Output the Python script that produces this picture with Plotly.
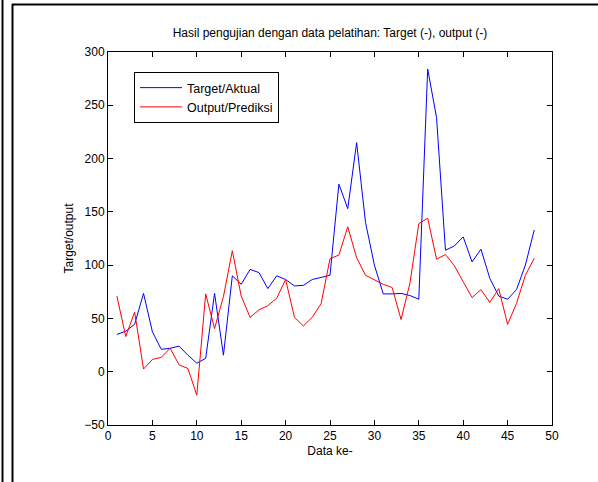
import plotly.graph_objects as go

data_idx = list(range(1, 49))
target = [35, 38, 44.5, 73.5, 37.5, 21, 22, 24, 15.5, 8, 12.5, 73.5, 15.5, 90, 82,
          96, 93, 78, 90, 86.5, 80.5, 81, 86.5, 88.5, 90.5, 176, 153, 215, 140, 100,
          73, 73, 73.5, 71.5, 68, 284, 238.5, 114, 118, 126.5, 103, 115, 87.5, 71, 68,
          77, 100, 133]
output = [71, 33, 56, 2.5, 11.5, 13.5, 22, 6.5, 3, -22, 73, 40.5, 70.5, 113.5, 71,
          51, 58, 62, 69, 86.5, 51, 43, 51, 64, 106, 109.5, 136, 107, 90.5, 86,
          82, 79, 49, 83, 139, 144, 105.5, 110, 99.5, 84.5, 69.5, 77, 65, 78, 44.5,
          64, 90.5, 106.5]
x_ticks = [0, 5, 10, 15, 20, 25, 30, 35, 40, 45, 50]
y_ticks = [-50, 0, 50, 100, 150, 200, 250, 300]

FONT = "Liberation Sans, Arial, sans-serif"

fig = go.Figure()
fig.add_trace(go.Scatter(x=data_idx, y=target, mode="lines", name="Target/Aktual",
                         line=dict(color="#0000ff", width=1)))
fig.add_trace(go.Scatter(x=data_idx, y=output, mode="lines", name="Output/Prediksi",
                         line=dict(color="#ff0000", width=1)))

L, R, T, B = 108, 46, 52, 57
W, H = 598, 482
pw, ph = W - L - R, H - T - B

def px(x):
    return (x - L) / pw

def py(y):
    return (H - B - y) / ph

axis_common = dict(showline=True, linecolor="black", linewidth=1, mirror="allticks",
                   ticks="inside", ticklen=5, tickcolor="black", showgrid=False,
                   zeroline=False, tickfont=dict(family=FONT, size=12, color="black"))

fig.update_layout(
    width=W, height=H,
    margin=dict(l=L, r=R, t=T, b=B),
    paper_bgcolor="white", plot_bgcolor="white",
    font=dict(family=FONT, size=12, color="black"),
    title=dict(text="Hasil pengujian dengan data pelatihan: Target (-), output (-)",
               x=0.5 * (pw / W) + L / W, xanchor="center",
               y=1 - 33 / H, yanchor="middle",
               font=dict(family=FONT, size=12, color="black")),
    xaxis=dict(range=[0, 50], tickvals=x_ticks,
               title=dict(text="Data ke-", font=dict(family=FONT, size=12), standoff=4),
               **axis_common),
    yaxis=dict(range=[-50, 300], tickvals=y_ticks,
               title=dict(text="Target/output", font=dict(family=FONT, size=12), standoff=8),
               **axis_common),
    legend=dict(x=px(134), y=py(72), xanchor="left", yanchor="top",
                bgcolor="white", bordercolor="black", borderwidth=1,
                font=dict(family=FONT, size=12.5, color="black"),
                tracegroupgap=0, itemwidth=42),
    showlegend=True,
)

# outer frame lines (as in the screenshot)
fig.add_shape(type="line", xref="paper", yref="paper",
              x0=px(2.5), x1=px(2.5), y0=py(0), y1=py(H),
              line=dict(color="black", width=2))
fig.add_shape(type="line", xref="paper", yref="paper",
              x0=px(12.5), x1=px(12.5), y0=py(4), y1=py(H),
              line=dict(color="black", width=2))
fig.add_shape(type="line", xref="paper", yref="paper",
              x0=px(12), x1=px(W), y0=py(4.5), y1=py(4.5),
              line=dict(color="black", width=2))

fig.write_html("out.html")
